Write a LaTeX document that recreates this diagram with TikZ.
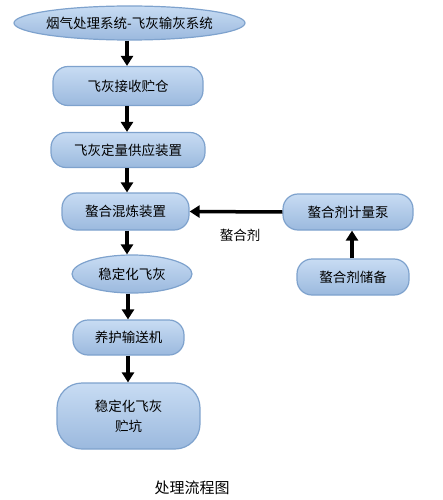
\documentclass[tikz,border=0pt]{standalone}
\usepackage{fontspec}
\setmainfont{Noto Sans CJK SC}
\usetikzlibrary{shapes.geometric,arrows.meta}
\definecolor{boxtop}{HTML}{C8DCF3}
\definecolor{boxbot}{HTML}{9BB9DE}
\definecolor{boxline}{HTML}{7EA2CD}
\begin{document}
\begin{tikzpicture}[x=1pt,y=-1pt]
        \tikzstyle{every node} = [font=\fontsize{13.5}{20}\selectfont]
        \tikzstyle{box} = [draw=boxline,line width=1.2pt,top color=boxtop,bottom color=boxbot,
                           rounded corners=15pt,inner sep=0pt,align=center]
        \tikzstyle{oval} = [box,ellipse,rounded corners=0pt]
        \tikzstyle{flow} = [line width=3.5pt,-{Triangle[width=12pt,length=10pt]}]
            \useasboundingbox (0,0) rectangle (442,500);
            \begin{scope}
                \node[oval,minimum width=231pt,minimum height=34pt] (src) at (129.5,23) {\makebox[0pt]{烟气处理系统-飞灰输灰系统}};
                \node[box,minimum width=150pt,minimum height=39pt] (silo) at (128,86) {飞灰接收贮仓};
                \node[box,minimum width=154pt,minimum height=35pt] (feed) at (128,150) {飞灰定量供应装置};
                \node[box,minimum width=127pt,minimum height=37pt] (mix) at (125.5,211.5) {螯合混炼装置};
                \node[oval,minimum width=120pt,minimum height=38pt] (ash) at (132,274) {\makebox[0pt]{稳定化飞灰}};
                \node[box,minimum width=111pt,minimum height=35pt] (conv) at (128.5,337.5) {养护输送机};
                \node[box,rounded corners=25pt,minimum width=143pt,minimum height=66pt] (pit) at (128.5,416) {稳定化飞灰\\贮坑};

                \node[box,minimum width=130pt,minimum height=36pt] (pump) at (348,212) {螯合剂计量泵};
                \node[box,minimum width=112pt,minimum height=36pt] (store) at (353,277) {螯合剂储备};

                \draw[flow] (src.south -| 127,0) -- (silo.north -| 127,0);
                \draw[flow] (silo.south -| 127,0) -- (feed.north -| 127,0);
                \draw[flow] (feed.south -| 127,0) -- (mix.north -| 127,0);
                \draw[flow] (mix.south -| 127,0) -- (ash.north -| 127,0);
                \draw[flow] (ash.south -| 128,0) -- (conv.north -| 128,0);
                \draw[flow] (conv.south -| 128,0) -- (pit.north -| 128,0);
                \draw[flow] (pump.west) -- (mix.east) node[midway,below=12pt,xshift=4pt] {螯合剂};
                \draw[flow] (store.north -| 352,0) -- (pump.south -| 352,0);

                \node[font=\fontsize{15}{18}\selectfont] (title) at (192,488) {处理流程图};
            \end{scope}
\end{tikzpicture}
\end{document}
